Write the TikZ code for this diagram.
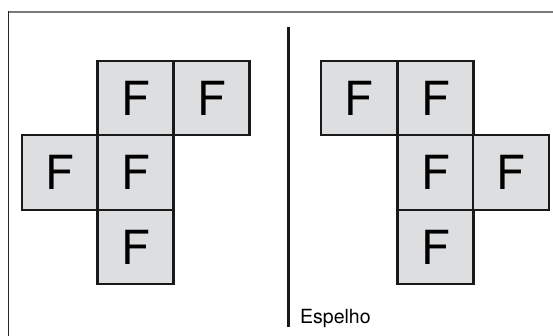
\documentclass[tikz,border=0pt]{standalone}
\usepackage{fontspec}
\setmainfont{TeX Gyre Heros}
\usepackage{tikz}
\usetikzlibrary{positioning}
\definecolor{cellgray}{HTML}{DDDEE0}
\definecolor{framegray}{HTML}{7A7A7A}

\begin{document}
\begin{tikzpicture}[x=1pt, y=-1pt,
    cell/.style={draw=black!90, line width=2.2pt, fill=cellgray, minimum width=76pt,
      minimum height=74.5pt, inner sep=0pt, font=\fontsize{47}{47}\selectfont},
    lbl/.style={font=\fontsize{19.5}{20}\selectfont, anchor=base west, inner sep=0pt}]
  \useasboundingbox (0,0) rectangle (553,336);
  % Moldura
  \draw[framegray, line width=1.8pt] (8.5,11.7) -- (553,11.7);
  \draw[black!85, line width=1.8pt] (8.5,10.8) -- (8.5,336);

  % Figura original (esquerda)
  \node[cell] (a1) at (135.5,98) {F};
  \node[cell] (a2) at (211.4,98) {F};
  \node[cell] (a3) at (59.6,172.5) {F};
  \node[cell] (a4) at (135.5,172.5) {F};
  \node[cell] (a5) at (135.5,247) {F};

  % Espelho
  \draw[black!90, line width=2.4pt] (288.5,27) -- (288.5,327);
  \node[lbl] (esp) at (300,323) {Espelho};

  % Imagem refletida (direita)
  \node[cell] (b1) at (359.3,98) {F};
  \node[cell] (b2) at (435.5,98) {F};
  \node[cell] (b3) at (435.5,172.5) {F};
  \node[cell] (b4) at (511.3,172.5) {F};
  \node[cell] (b5) at (435.5,247) {F};
\end{tikzpicture}
\end{document}
